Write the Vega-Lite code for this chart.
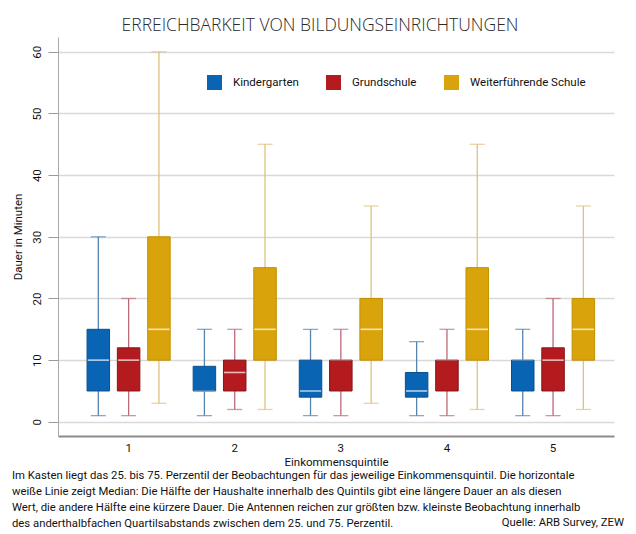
{
  "$schema": "https://vega.github.io/schema/vega-lite/v6.json",
  "padding": {"left": 12, "top": 16, "right": 5, "bottom": 5},
  "title": {
    "text": "ERREICHBARKEIT VON BILDUNGSEINRICHTUNGEN",
    "anchor": "middle",
    "font": "Open Sans",
    "fontSize": 17.5,
    "fontWeight": 300,
    "color": "#2a2a2a",
    "offset": 3,
    "dx": 2
  },
  "data": {
    "values": [
      {"q": "1", "typ": "Kindergarten", "min": 1, "q1": 5, "median": 10, "q3": 15, "max": 30},
      {"q": "1", "typ": "Grundschule", "min": 1, "q1": 5, "median": 10, "q3": 12, "max": 20},
      {"q": "1", "typ": "Weiterführende Schule", "min": 3, "q1": 10, "median": 15, "q3": 30, "max": 60},
      {"q": "2", "typ": "Kindergarten", "min": 1, "q1": 5, "median": 5, "q3": 9, "max": 15},
      {"q": "2", "typ": "Grundschule", "min": 2, "q1": 5, "median": 8, "q3": 10, "max": 15},
      {"q": "2", "typ": "Weiterführende Schule", "min": 2, "q1": 10, "median": 15, "q3": 25, "max": 45},
      {"q": "3", "typ": "Kindergarten", "min": 1, "q1": 4, "median": 5, "q3": 10, "max": 15},
      {"q": "3", "typ": "Grundschule", "min": 1, "q1": 5, "median": 10, "q3": 10, "max": 15},
      {"q": "3", "typ": "Weiterführende Schule", "min": 3, "q1": 10, "median": 15, "q3": 20, "max": 35},
      {"q": "4", "typ": "Kindergarten", "min": 1, "q1": 4, "median": 5, "q3": 8, "max": 13},
      {"q": "4", "typ": "Grundschule", "min": 1, "q1": 5, "median": 10, "q3": 10, "max": 15},
      {"q": "4", "typ": "Weiterführende Schule", "min": 2, "q1": 10, "median": 15, "q3": 25, "max": 45},
      {"q": "5", "typ": "Kindergarten", "min": 1, "q1": 5, "median": 10, "q3": 10, "max": 15},
      {"q": "5", "typ": "Grundschule", "min": 1, "q1": 5, "median": 10, "q3": 12, "max": 20},
      {"q": "5", "typ": "Weiterführende Schule", "min": 2, "q1": 10, "median": 15, "q3": 20, "max": 35}
    ]
  },
  "vconcat": [
    {
      "title": {
        "text": "Quelle: ARB Survey, ZEW",
        "orient": "bottom",
        "anchor": "end",
        "offset": -12,
        "dx": 10,
        "fontSize": 11.3,
        "fontWeight": "normal",
        "color": "#111111"
      },
      "vconcat": [
        {
          "width": 556,
          "height": 399,
          "title": {
            "text": [
              "Im Kasten liegt das 25. bis 75. Perzentil der Beobachtungen für das jeweilige Einkommensquintil. Die horizontale",
              "weiße Linie zeigt Median: Die Hälfte der Haushalte innerhalb des Quintils gibt eine längere Dauer an als diesen",
              "Wert, die andere Hälfte eine kürzere Dauer. Die Antennen reichen zur größten bzw. kleinste Beobachtung innerhalb",
              "des anderthalbfachen Quartilsabstands zwischen dem 25. und 75. Perzentil."
            ],
            "orient": "bottom",
            "anchor": "start",
            "frame": "bounds",
            "offset": 2,
            "fontSize": 11.3,
            "lineHeight": 16,
            "fontWeight": "normal",
            "color": "#111111"
          },
          "encoding": {
            "x": {
              "field": "q",
              "type": "nominal",
              "title": "Einkommensquintile",
              "scale": {"paddingInner": 0, "paddingOuter": 0.12, "align": 0.69},
              "axis": {
                "labelAngle": 0,
                "ticks": false,
                "grid": false,
                "domainColor": "#8c8c8c",
                "domainWidth": 2,
                "labelPadding": 6,
                "titlePadding": 3
              }
            },
            "xOffset": {
              "field": "typ",
              "type": "nominal",
              "scale": {
                "domain": ["Kindergarten", "Grundschule", "Weiterführende Schule"],
                "paddingInner": 0,
                "paddingOuter": 0.25
              }
            }
          },
          "layer": [
            {
              "mark": {"type": "rule", "strokeWidth": 1.3},
              "encoding": {
                "y": {
                  "field": "min",
                  "type": "quantitative",
                  "title": "Dauer in Minuten",
                  "scale": {"domain": [-2.3, 62.4], "nice": false, "zero": false},
                  "axis": {
                    "values": [0, 10, 20, 30, 40, 50, 60],
                    "labelAngle": 270,
                    "tickSize": 10,
                    "tickColor": "#9a9a9a",
                    "domainColor": "#a8a8a8",
                    "gridColor": "#d9d9d9",
                    "gridWidth": 1.5,
                    "labelPadding": 6,
                    "titlePadding": 8
                  }
                },
                "y2": {"field": "max"},
                "color": {
                  "field": "typ",
                  "type": "nominal",
                  "scale": {
                    "domain": ["Kindergarten", "Grundschule", "Weiterführende Schule"],
                    "range": ["#5683b0", "#bb6b78", "#e0c27a"]
                  },
                  "legend": null
                }
              }
            },
            {
              "mark": {"type": "tick", "size": 15, "thickness": 1.3},
              "encoding": {
                "y": {"field": "min", "type": "quantitative", "title": "Dauer in Minuten"},
                "color": {
                  "field": "typ",
                  "type": "nominal",
                  "scale": {
                    "domain": ["Kindergarten", "Grundschule", "Weiterführende Schule"],
                    "range": ["#5683b0", "#bb6b78", "#e0c27a"]
                  },
                  "legend": null
                }
              }
            },
            {
              "mark": {"type": "tick", "size": 15, "thickness": 1.3},
              "encoding": {
                "y": {"field": "max", "type": "quantitative", "title": "Dauer in Minuten"},
                "color": {
                  "field": "typ",
                  "type": "nominal",
                  "scale": {
                    "domain": ["Kindergarten", "Grundschule", "Weiterführende Schule"],
                    "range": ["#5683b0", "#bb6b78", "#e0c27a"]
                  },
                  "legend": null
                }
              }
            },
            {
              "mark": {"type": "bar", "size": 22.5},
              "encoding": {
                "y": {"field": "q1", "type": "quantitative", "title": "Dauer in Minuten"},
                "y2": {"field": "q3"},
                "color": {
                  "field": "typ",
                  "type": "nominal",
                  "scale": {
                    "domain": ["Kindergarten", "Grundschule", "Weiterführende Schule"],
                    "range": ["#0a64b4", "#b31b1f", "#d9a40b"]
                  },
                  "legend": {
                    "title": null,
                    "orient": "none",
                    "legendX": 149,
                    "legendY": 38,
                    "direction": "horizontal",
                    "symbolType": "square",
                    "symbolSize": 225,
                    "symbolStrokeWidth": 0,
                    "labelOffset": 11,
                    "columnPadding": 27,
                    "labelFontSize": 11.5,
                    "labelColor": "#111111",
                    "padding": 0
                  }
                }
              }
            },
            {
              "mark": {"type": "tick", "size": 22, "thickness": 1.6, "color": "#ffffff"},
              "encoding": {
                "y": {"field": "median", "type": "quantitative", "title": "Dauer in Minuten"}
              }
            },
            {
              "mark": {"type": "bar", "size": 22.5, "fillOpacity": 0, "strokeWidth": 1},
              "encoding": {
                "y": {"field": "q1", "type": "quantitative", "title": "Dauer in Minuten"},
                "y2": {"field": "q3"},
                "stroke": {
                  "field": "typ",
                  "type": "nominal",
                  "scale": {
                    "domain": ["Kindergarten", "Grundschule", "Weiterführende Schule"],
                    "range": ["#0a4f8c", "#86161a", "#c29000"]
                  },
                  "legend": null
                }
              }
            }
          ],
          "resolve": {"scale": {"color": "independent"}}
        }
      ]
    }
  ],
  "config": {
    "font": "Roboto",
    "view": {"stroke": null},
    "axis": {
      "labelFontSize": 11.5,
      "labelColor": "#111111",
      "titleFontSize": 11.5,
      "titleFontWeight": "normal",
      "titleColor": "#111111"
    },
    "legend": {"labelFont": "Roboto"}
  }
}
